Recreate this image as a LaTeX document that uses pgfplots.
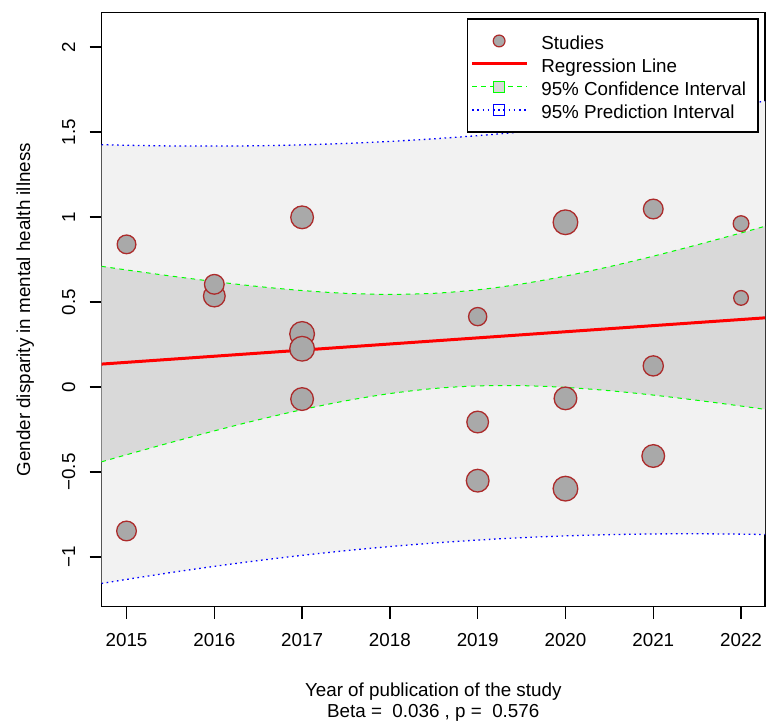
\documentclass[border=0pt]{standalone}
\usepackage{fontspec}
\setmainfont{Liberation Sans}
\usepackage{pgfplots}
\usepackage{pgfplotstable}
\pgfplotsset{compat=1.18}
\usepgfplotslibrary{fillbetween}

\definecolor{ptfill}{HTML}{A9A9A9}
\definecolor{ptborder}{HTML}{AC2B2B}
\definecolor{gray95}{HTML}{F2F2F2}
\definecolor{gray85}{HTML}{D9D9D9}
\definecolor{cigreen}{HTML}{00FF00}
\definecolor{piblue}{HTML}{0000FF}

% confidence and prediction bands of the meta-regression
% (x = years since 2015)
\pgfplotstableread{
x      ciu     cil      piu     pil
-0.285 0.7098 -0.4402  1.4254 -1.1558
0.0    0.6886 -0.3986  1.4219 -1.1319
0.5    0.6531 -0.3271  1.4181 -1.0921
1.0    0.6202 -0.2582  1.4171 -1.0551
1.5    0.5911 -0.1931  1.4191 -1.0211
2.0    0.5674 -0.1334  1.4244 -0.9904
2.5    0.5510 -0.0810  1.4328 -0.9628
3.0    0.5447 -0.0387  1.4447 -0.9387
3.5    0.5510 -0.0090  1.4599 -0.9179
4.0    0.5716  0.0064  1.4785 -0.9005
4.5    0.6061  0.0079  1.5005 -0.8865
5.0    0.6524 -0.0024  1.5259 -0.8759
5.5    0.7077 -0.0217  1.5546 -0.8686
6.0    0.7696 -0.0476  1.5865 -0.8645
6.5    0.8362 -0.0782  1.6216 -0.8636
7.0    0.9061 -0.1121  1.6596 -0.8656
7.273  0.9455 -0.1317  1.6816 -0.8680
}\bands

% studies: years since 2015, effect, marker radius (pt) scaled by weight
\pgfplotstableread{
x   y       r
2   0.312  12.35
2   0.225  12.35
5   0.969  12.35
5  -0.598  12.35
2   0.998  11.35
2  -0.071  11.35
4  -0.551  11.35
5  -0.067  11.35
6  -0.406  11.35
1   0.535  10.85
4  -0.206  10.85
6   0.124  10.10
0  -0.847   9.85
1   0.604   9.85
6   1.047   9.85
0   0.839   9.35
4   0.414   9.10
7   0.961   7.85
7   0.524   7.35
}\studies

\begin{document}
\begin{tikzpicture}[font=\fontsize{18.8}{22.6}\selectfont]
\begin{axis}[
  at={(101.5pt,115.3pt)}, anchor=south west,
  scale only axis, width=663.5pt, height=594pt,
  xmin=-0.285, xmax=7.273,
  ymin=-1.2924, ymax=2.2018,
  xtick={0,1,2,3,4,5,6,7},
  xticklabels={2015,2016,2017,2018,2019,2020,2021,2022},
  ytick={-1,-0.5,0,0.5,1,1.5,2},
  yticklabels={−1,−0.5,0,0.5,1,1.5,2},
  xtick pos=left, ytick pos=left,
  tick align=outside, major tick length=12pt,
  tick style={black, line width=1.3pt},
  axis line style={black, line width=1.4pt},
  xticklabel style={anchor=base, inner sep=0pt},
  xticklabel shift=28.3pt,
  yticklabel style={rotate=90, anchor=base, inner sep=0pt},
  yticklabel shift=14.5pt,
  xlabel={Year of publication of the study},
  xlabel style={at={(axis description cs:0.5,0)}, anchor=base, inner sep=0pt, yshift=-89.8pt},
  legend cell align=left,
  legend style={
    at={(axis description cs:0.5509,0.9906)}, anchor=north west,
    draw=black, line width=1.4pt, fill=white,
    inner xsep=2.9pt, inner ysep=10.5pt,
    column sep=12.7pt, row sep=0pt,
    nodes={inner xsep=0pt, inner ysep=0pt, text height=19.8pt, text depth=3.2pt},
  },
]
% legend entries
\addlegendimage{legend image code/.code={
  \path[draw=none] (0pt,0pt) -- (55pt,0pt);
  \draw[ptborder, fill=ptfill, line width=1.2pt] (27pt,0pt) circle (5.9pt);}}
\addlegendentry{Studies}
\addlegendimage{legend image code/.code={
  \draw[red, line width=3pt] (0pt,0pt) -- (55pt,0pt);}}
\addlegendentry{Regression Line}
\addlegendimage{legend image code/.code={
  \draw[cigreen, line width=1pt, dash pattern=on 4.5pt off 4.5pt] (0pt,0pt) -- (55pt,0pt);
  \draw[cigreen, fill=gray85, line width=1pt] (21pt,-5.8pt) rectangle (32.6pt,5.8pt);}}
\addlegendentry{95\% Confidence Interval\rule{9pt}{0pt}}
\addlegendimage{legend image code/.code={
  \draw[piblue, line width=1.3pt, dash pattern=on 1.6pt off 3.6pt] (0pt,0pt) -- (55pt,0pt);
  \draw[piblue, line width=1pt] (21pt,-5.8pt) rectangle (32.6pt,5.8pt);}}
\addlegendentry{95\% Prediction Interval}

% bands
\addplot[name path=piu, draw=none, smooth, forget plot] table[x=x, y=piu] {\bands};
\addplot[name path=pil, draw=none, smooth, forget plot] table[x=x, y=pil] {\bands};
\addplot[gray95, forget plot] fill between[of=piu and pil];
\addplot[name path=ciu, draw=none, smooth, forget plot] table[x=x, y=ciu] {\bands};
\addplot[name path=cil, draw=none, smooth, forget plot] table[x=x, y=cil] {\bands};
\addplot[gray85, forget plot] fill between[of=ciu and cil];

% regression line
\addplot[red, line width=3pt, forget plot] coordinates {(-0.285,0.1347) (7.273,0.4068)};

% interval bounds
\addplot[cigreen, line width=1pt, dash pattern=on 4.5pt off 4.5pt, smooth, forget plot] table[x=x, y=ciu] {\bands};
\addplot[cigreen, line width=1pt, dash pattern=on 4.5pt off 4.5pt, smooth, forget plot] table[x=x, y=cil] {\bands};
\addplot[piblue, line width=1.3pt, dash pattern=on 1.6pt off 3.6pt, smooth, forget plot] table[x=x, y=piu] {\bands};
\addplot[piblue, line width=1.3pt, dash pattern=on 1.6pt off 3.6pt, smooth, forget plot] table[x=x, y=pil] {\bands};

% studies
\addplot[scatter, only marks, mark=*, forget plot, line width=1.3pt,
  scatter/use mapped color={draw=ptborder, fill=ptfill},
  visualization depends on={\thisrow{r} \as \rad},
  scatter/@pre marker code/.append style={/tikz/mark size=\rad pt}]
  table[x=x, y=y] {\studies};
\end{axis}
\node[rotate=90, anchor=base, inner sep=0pt] at (30pt,412.3pt) {Gender disparity in mental health illness};
\node[anchor=base, inner sep=0pt] at (433.25pt,4pt) {Beta =\ \ 0.036 , p =\ \ 0.576};
\pgfresetboundingbox
\path (0,0) rectangle (771pt,722pt);
\end{tikzpicture}
\end{document}
